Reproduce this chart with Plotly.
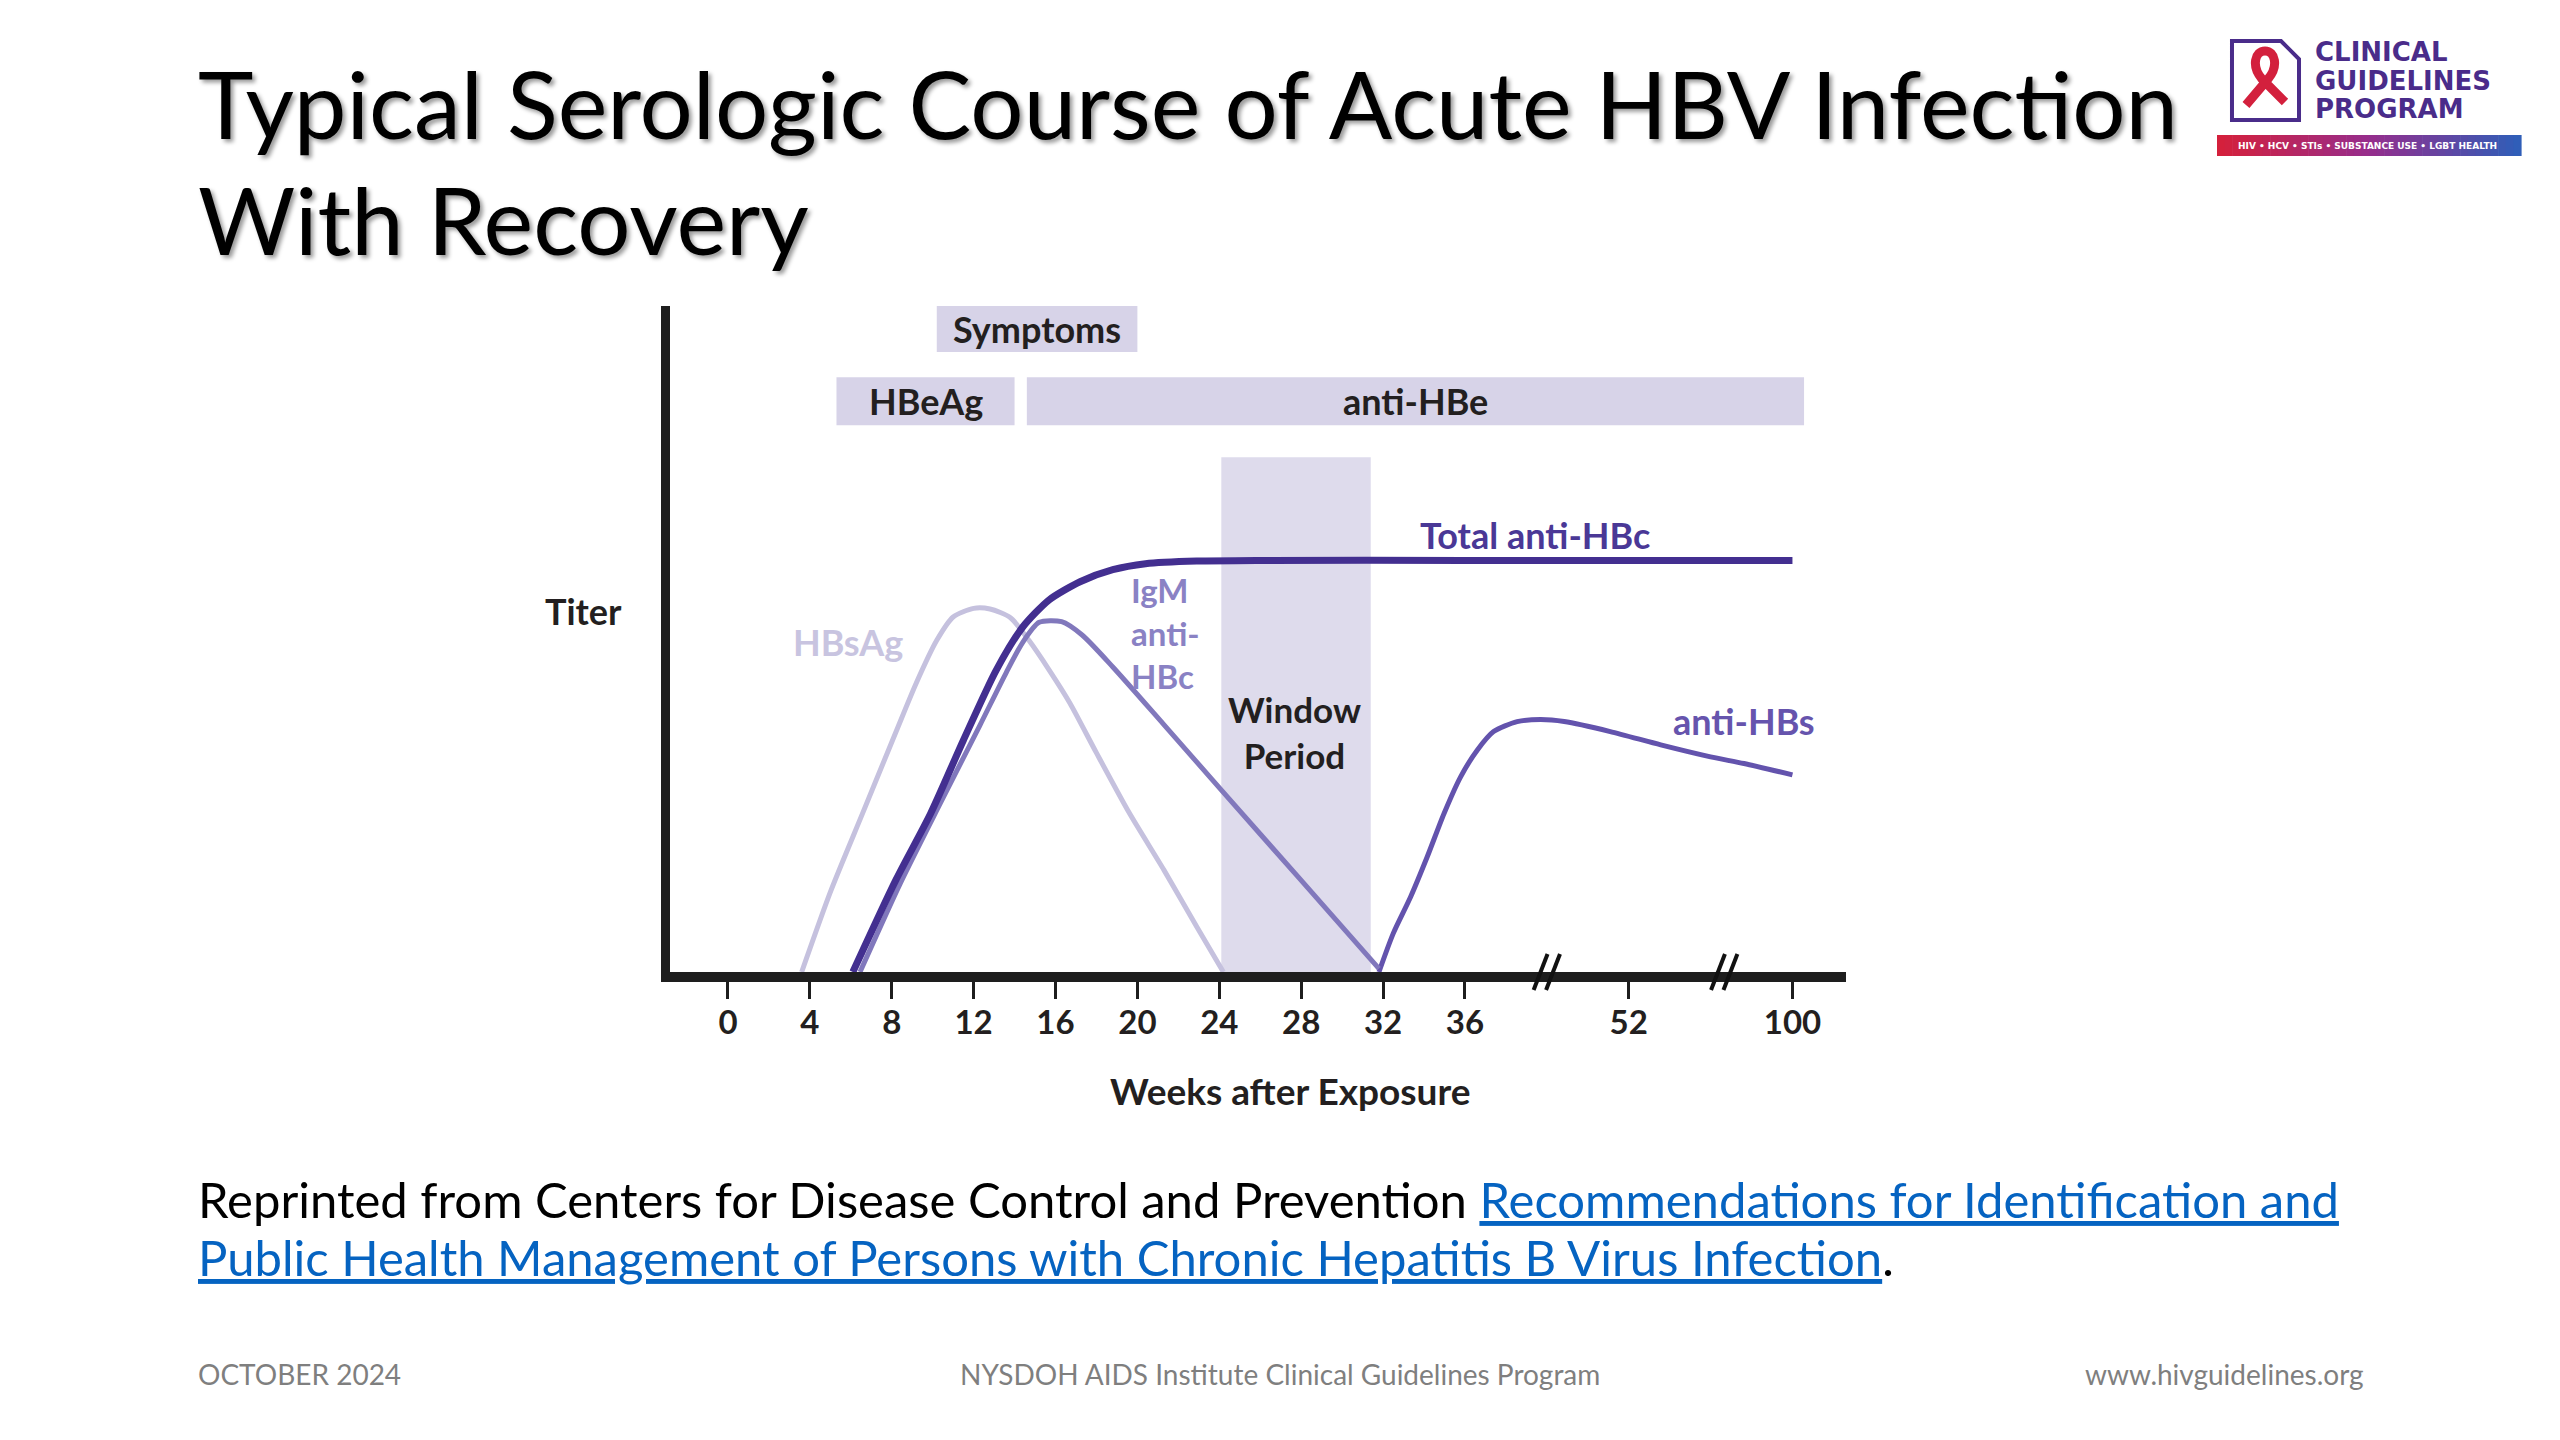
import numpy as np
import plotly.graph_objects as go

W, H = 2560, 1440

# ---------------- data ----------------
# broken x axis: weeks after exposure
TICK_WEEKS = [0, 4, 8, 12, 16, 20, 24, 28, 32, 36, 52, 100]
TICK_LABELS = ["0", "4", "8", "12", "16", "20", "24", "28", "32", "36", "52", "100"]
TICK_SLOTS = [0, 1, 2, 3, 4, 5, 6, 7, 8, 9, 11, 13]
BREAK_WEEKS = [44, 80]

hbsag_weeks = [3.6, 5.0, 6.6, 8.2, 9.2, 10.2, 11.0, 12.0, 12.8, 13.8, 14.7, 15.7, 16.7, 18.0, 19.6, 21.3, 22.9, 24.2]
hbsag_titer = [0, 12, 24, 36, 43.4, 49.8, 53.3, 54.6, 54.5, 53.2, 49.8, 45.3, 40.4, 32.9, 23.9, 15.3, 6.8, 0]

total_weeks = [6.1, 8.2, 9.9, 11.5, 13.1, 14.4, 15.7, 17.2, 18.8, 20.4, 22.9, 26, 36, 52, 100]
total_titer = [0, 13.8, 23.8, 34.8, 45.3, 51.8, 55.9, 58.6, 60.4, 61.3, 61.7, 61.8, 61.8, 61.8, 61.8]

igm_weeks = [6.45, 8.4, 10.4, 12.3, 13.6, 14.4, 15.2, 16.3, 17.3, 18.8, 21.25, 24.05, 27.96, 31.8]
igm_titer = [0, 13.2, 25.5, 37, 45, 49.5, 52.5, 52.6, 50.6, 45.8, 37.3, 27.5, 13.9, 0.5]

antihbs_weeks = [31.8, 32.5, 33.35, 34.16, 34.98, 35.79, 37.2, 38.8, 41.1, 43.4, 45.7, 50.2, 61.4, 76.0, 85.8, 100]
antihbs_titer = [0, 5.8, 11.3, 17.3, 23.8, 29.3, 33.3, 36.1, 37.6, 37.9, 37.6, 36.1, 34.1, 32.3, 31.3, 29.6]

# marker periods (weeks)
symptoms_weeks = [10.2, 20.0]
hbeag_weeks = [5.3, 14.0]
antihbe_weeks = [14.6, 103.4]
window_weeks = [24.1, 31.4]

# ---------------- helpers ----------------
MAP_W = TICK_WEEKS + [124]
MAP_S = TICK_SLOTS + [14]


def pos(w):
    return float(np.interp(w, MAP_W, MAP_S))


def px(x):
    return x / W


def py(y):
    return 1 - y / H


FONT = "Lato"
DARK = "#231f20"
C_HBSAG = "#c5c1de"
C_TOTAL = "#432f90"
C_IGM = "#8178bc"
C_AHBS = "#6353ad"
C_BAND = "#d7d3e8"
C_WIN = "#dedbec"

fig = go.Figure()

# ---------------- curves ----------------
def add_curve(weeks, titer, color, width, name):
    fig.add_trace(go.Scatter(
        x=[pos(w) for w in weeks], y=titer, mode="lines", name=name,
        line=dict(color=color, width=width, shape="spline", smoothing=0.7),
        hoverinfo="skip", showlegend=False))

add_curve(hbsag_weeks, hbsag_titer, C_HBSAG, 5, "HBsAg")
add_curve(antihbs_weeks, antihbs_titer, C_AHBS, 5, "anti-HBs")
add_curve(igm_weeks, igm_titer, C_IGM, 5, "IgM anti-HBc")
add_curve(total_weeks, total_titer, C_TOTAL, 7, "Total anti-HBc")

shapes = []
annotations = []

# ---------------- period bands ----------------
def band(weeks, y0, y1, color):
    shapes.append(dict(type="rect", xref="x", yref="y", x0=pos(weeks[0]), x1=pos(weeks[1]),
                       y0=y0, y1=y1, fillcolor=color, line=dict(width=0), layer="below"))

band(window_weeks, 0, 77.3, C_WIN)
band(symptoms_weeks, 93.1, 100, C_BAND)
band(hbeag_weeks, 82.1, 89.3, C_BAND)
band(antihbe_weeks, 82.1, 89.3, C_BAND)


def label(text, x, y, color=DARK, size=36, xanchor="center", xref="x", yref="y", align="center"):
    annotations.append(dict(text=text, x=x, y=y, xref=xref, yref=yref, showarrow=False,
                            xanchor=xanchor, yanchor="middle", align=align,
                            font=dict(family=FONT, size=size, color=color, weight=700)))

label("Symptoms", (pos(symptoms_weeks[0]) + pos(symptoms_weeks[1])) / 2, 96.6)
label("HBeAg", (pos(hbeag_weeks[0]) + pos(hbeag_weeks[1])) / 2, 85.7)
label("anti-HBe", (pos(antihbe_weeks[0]) + pos(antihbe_weeks[1])) / 2, 85.7)
label("Window<br>Period", 6.92, 36.0, size=35)
label("Total anti-HBc", 9.85, 65.6, color="#4a3896")
label("IgM<br>anti-<br>HBc", 4.90, 50.9, color="#8a82c4", xanchor="left", size=33, align="left")
label("HBsAg", 1.46, 49.6, color="#c8c4e0")
label("anti-HBs", 12.41, 37.7, color="#6654ad")
label("Titer", px(624), py(611), xanchor="right", xref="paper", yref="paper")
label("Weeks after Exposure", px(1290), py(1090), size=37, xref="paper", yref="paper")

# axis break marks
for bw in BREAK_WEEKS:
    c = pos(bw)
    for off in (-0.076, 0.076):
        shapes.append(dict(type="line", xref="x", yref="paper",
                           x0=c + off - 0.085, x1=c + off + 0.085,
                           y0=py(990), y1=py(954),
                           line=dict(color="#111111", width=4)))

# ---------------- slide text ----------------
TITLE_FONT = dict(family=FONT, size=94, color="#000000",
                  shadow="3px 3px 4px rgba(0,0,0,0.40)")
annotations.append(dict(text="Typical Serologic Course of Acute HBV Infection", x=px(196), y=py(103),
                        xref="paper", yref="paper", xanchor="left", yanchor="middle",
                        showarrow=False, font=TITLE_FONT))
annotations.append(dict(text="With Recovery", x=px(196), y=py(218),
                        xref="paper", yref="paper", xanchor="left", yanchor="middle",
                        showarrow=False, font=TITLE_FONT))

LINK = "color:#0563c1;text-decoration:underline"
annotations.append(dict(
    text="Reprinted from Centers for Disease Control and Prevention "
         "<span style='" + LINK + "'>Recommendations for Identification and</span>",
    x=px(196), y=py(1199), xref="paper", yref="paper", xanchor="left", yanchor="middle",
    showarrow=False, font=dict(family=FONT, size=49, color="#000000")))
annotations.append(dict(
    text="<span style='" + LINK + "'>Public Health Management of Persons with Chronic Hepatitis B Virus Infection</span>.",
    x=px(196), y=py(1257), xref="paper", yref="paper", xanchor="left", yanchor="middle",
    showarrow=False, font=dict(family=FONT, size=49, color="#000000")))

FOOT = dict(family=FONT, size=28, color="#7f7f7f")
annotations.append(dict(text="OCTOBER 2024", x=px(196), y=py(1374), xref="paper", yref="paper",
                        xanchor="left", yanchor="middle", showarrow=False, font=FOOT))
annotations.append(dict(text="NYSDOH AIDS Institute Clinical Guidelines Program", x=0.5, y=py(1374),
                        xref="paper", yref="paper", xanchor="center", yanchor="middle",
                        showarrow=False, font=FOOT))
annotations.append(dict(text="www.hivguidelines.org", x=px(2366), y=py(1374), xref="paper", yref="paper",
                        xanchor="right", yanchor="middle", showarrow=False, font=FOOT))

# ---------------- logo ----------------
LOGO_C = "#4a2c8a"
doc = [(2232, 41), (2281, 41), (2299, 59), (2299, 120), (2232, 120)]
path = "M " + " L ".join(f"{px(x):.5f},{py(y):.5f}" for x, y in doc) + " Z"
shapes.append(dict(type="path", xref="paper", yref="paper", path=path,
                   line=dict(color=LOGO_C, width=4), fillcolor="rgba(0,0,0,0)"))
rib = [("M", 2246, 105), ("L", 2268, 79), ("C", 2279, 66), ("", 2275, 51), ("", 2265, 51),
       ("C", 2255, 51), ("", 2251, 66), ("", 2262, 79), ("L", 2285, 102)]
rpath = " ".join(f"{c} {px(x):.5f},{py(y):.5f}" if c else f"{px(x):.5f},{py(y):.5f}" for c, x, y in rib)
shapes.append(dict(type="path", xref="paper", yref="paper", path=rpath,
                   line=dict(color="#d3203d", width=9), fillcolor="rgba(0,0,0,0)"))

for t, yc in (("CLINICAL", 52), ("GUIDELINES", 81), ("PROGRAM", 109)):
    annotations.append(dict(text=t, x=px(2313), y=py(yc), xref="paper", yref="paper",
                            xanchor="left", yanchor="middle", showarrow=False,
                            font=dict(family="DejaVu Sans", size=26, color=LOGO_C, weight=700)))

stops = [(0.0, (214, 32, 58)), (0.5, (150, 45, 140)), (1.0, (45, 95, 185))]
nseg = 40
bx0, bx1, by0, by1 = 2217, 2521, 135, 156
for i in range(nseg):
    f = (i + 0.5) / nseg
    if f <= 0.5:
        a, b, t = stops[0][1], stops[1][1], f / 0.5
    else:
        a, b, t = stops[1][1], stops[2][1], (f - 0.5) / 0.5
    col = tuple(int(round(a[k] + (b[k] - a[k]) * t)) for k in range(3))
    xa = bx0 + (bx1 - bx0) * i / nseg
    xb = bx0 + (bx1 - bx0) * (i + 1) / nseg + 0.6
    shapes.append(dict(type="rect", xref="paper", yref="paper", x0=px(xa), x1=px(xb),
                       y0=py(by1), y1=py(by0), fillcolor=f"rgb{col}", line=dict(width=0)))
annotations.append(dict(text="HIV • HCV • STIs • SUBSTANCE USE • LGBT HEALTH", x=px(2367), y=py(145.5),
                        xref="paper", yref="paper", xanchor="center", yanchor="middle", showarrow=False,
                        font=dict(family="DejaVu Sans", size=9, color="#ffffff", weight=700)))

# ---------------- layout ----------------
fig.update_layout(
    width=W, height=H, autosize=False,
    margin=dict(l=0, r=0, t=0, b=0, pad=0),
    paper_bgcolor="#ffffff", plot_bgcolor="#ffffff",
    showlegend=False,
    shapes=shapes, annotations=annotations,
    xaxis=dict(domain=[px(670), px(1846)], range=[-0.708, 13.654],
               tickvals=[pos(w) for w in TICK_WEEKS], ticktext=TICK_LABELS,
               ticks="outside", ticklen=17, tickwidth=3, tickcolor="#1e1e1e",
               showline=True, linewidth=10, linecolor="#1e1e1e",
               showgrid=False, zeroline=False, fixedrange=True,
               ticklabelstandoff=-5,
               tickfont=dict(family=FONT, size=33, color=DARK, weight=700)),
    yaxis=dict(domain=[py(972), py(306)], range=[0, 100],
               showline=True, linewidth=9, linecolor="#1e1e1e",
               showticklabels=False, ticks="", showgrid=False, zeroline=False, fixedrange=True),
)

fig.write_html("out.html", config={"displayModeBar": False},
               post_script="document.body.style.margin='0';document.body.style.overflow='hidden';")
